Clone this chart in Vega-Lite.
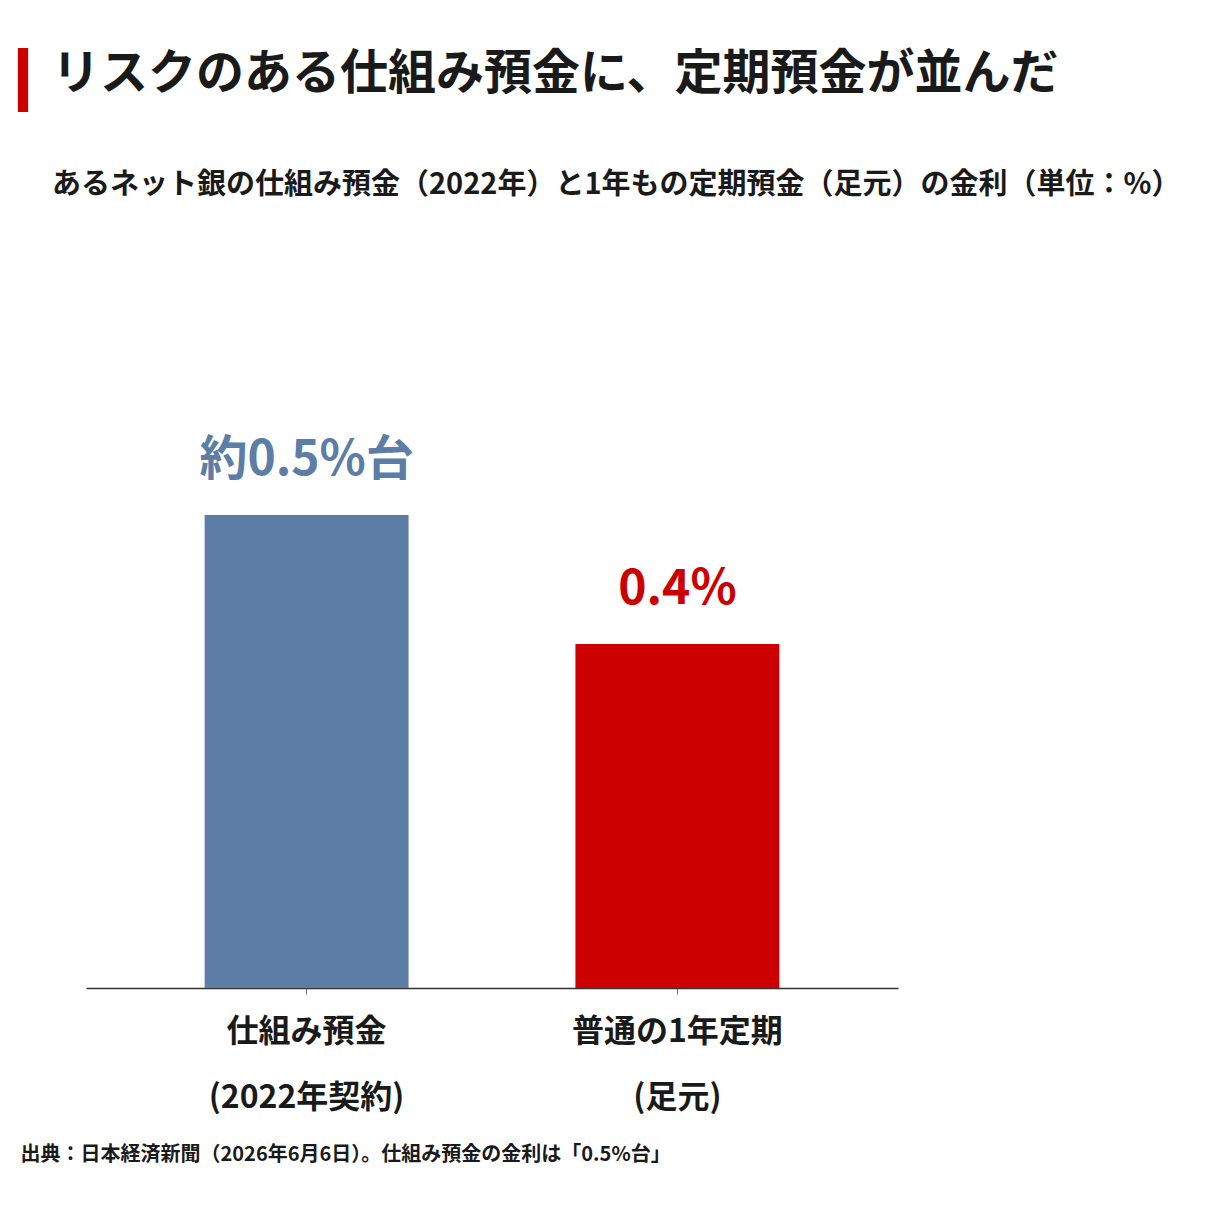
{
  "$schema": "https://vega.github.io/schema/vega-lite/v6.json",
  "width": 812,
  "height": 516,
  "autosize": {"type": "none"},
  "padding": {"left": 86, "top": 472, "right": 309, "bottom": 219},
  "background": "white",
  "config": {
    "font": "Noto Sans CJK JP",
    "view": {"stroke": null}
  },
  "title": {
    "text": "リスクのある仕組み預金に、定期預金が並んだ",
    "subtitle": "あるネット銀の仕組み預金（2022年）と1年もの定期預金（足元）の金利（単位：%）",
    "anchor": "start",
    "frame": "group",
    "dx": -34,
    "offset": -152,
    "fontSize": 48,
    "fontWeight": "bold",
    "color": "#1a1a1a",
    "subtitleFontSize": 29,
    "subtitleFontWeight": "bold",
    "subtitleColor": "#1a1a1a",
    "subtitlePadding": 72
  },
  "data": {
    "values": [
      {"item": "仕組み預金\n(2022年契約)", "rate": 0.55, "label": "約0.5%台"},
      {"item": "普通の1年定期\n(足元)", "rate": 0.4, "label": "0.4%"}
    ]
  },
  "encoding": {
    "x": {
      "field": "item",
      "type": "nominal",
      "sort": null,
      "scale": {"paddingInner": 0.45, "paddingOuter": 0.32},
      "axis": {
        "title": "出典：日本経済新聞（2026年6月6日）。仕組み預金の金利は「0.5%台」",
        "titleAnchor": "start",
        "titleAlign": "left",
        "titleBaseline": "alphabetic",
        "titleX": -66,
        "titleY": 172,
        "titleFontSize": 20,
        "titleFontWeight": "bold",
        "titleColor": "#1a1a1a",
        "labelExpr": "split(datum.label, '\\n')",
        "labelAngle": 0,
        "labelLimit": 0,
        "labelFontSize": 32,
        "labelFontWeight": "bold",
        "labelColor": "#1a1a1a",
        "labelLineHeight": 66,
        "labelPadding": 22,
        "labelBaseline": "top",
        "domainColor": "#333333",
        "domainWidth": 1.5,
        "tickColor": "#777777",
        "tickSize": 6
      }
    },
    "y": {
      "field": "rate",
      "type": "quantitative",
      "scale": {"domain": [0, 0.6]},
      "axis": null
    }
  },
  "layer": [
    {
      "mark": {"type": "bar"},
      "encoding": {
        "color": {
          "field": "item",
          "type": "nominal",
          "scale": {"range": ["#5b7da6", "#cc0000"]},
          "legend": {
            "values": ["普通の1年定期\n(足元)"],
            "orient": "none",
            "legendX": -95,
            "legendY": -424,
            "title": null,
            "labelExpr": "''",
            "symbolType": "M-0.16,-1H0.16V1H-0.16Z",
            "symbolSize": 4096,
            "symbolStrokeWidth": 0,
            "padding": 0
          }
        }
      }
    },
    {
      "mark": {"type": "text", "baseline": "bottom", "dy": -30, "fontSize": 48, "fontWeight": "bold"},
      "encoding": {
        "text": {"field": "label"},
        "color": {
          "field": "item",
          "type": "nominal",
          "scale": {"range": ["#5b7da6", "#cc0000"]},
          "legend": null
        }
      }
    }
  ]
}
